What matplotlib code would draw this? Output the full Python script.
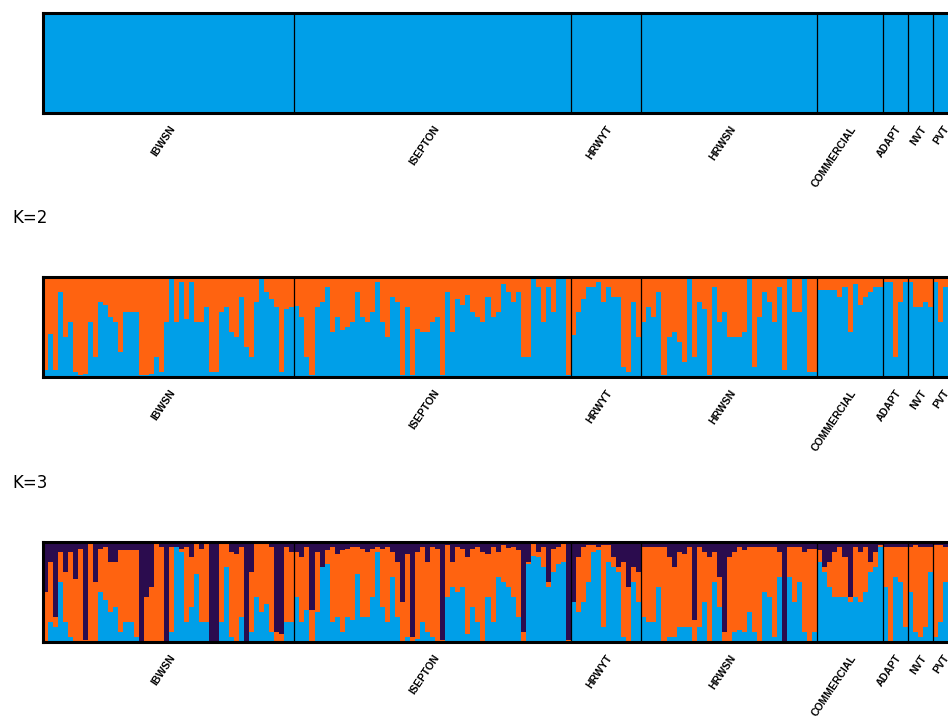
import numpy as np
import matplotlib.pyplot as plt

groups = ["IBWSN", "ISEPTON", "HRWYT", "HRWSN", "COMMERCIAL", "ADAPT", "NVT", "PVT"]

# K=2: blue share per individual (orange is the rest), one list per group
k2_blue = {
    "IBWSN": [0.07, 0.43, 0.07, 0.85, 0.40, 0.55, 0.05, 0.02, 0.03, 0.55,
              0.20, 0.75, 0.72, 0.60, 0.55, 0.25, 0.65, 0.65, 0.65, 0.02,
              0.02, 0.03, 0.20, 0.05, 0.55, 0.98, 0.55, 0.95, 0.58, 0.95,
              0.55, 0.55, 0.70, 0.05, 0.05, 0.65, 0.70, 0.45, 0.40, 0.80,
              0.30, 0.20, 0.75, 0.98, 0.85, 0.78, 0.70, 0.05, 0.68, 0.70],
    "ISEPTON": [0.71, 0.60, 0.20, 0.02, 0.70, 0.75, 0.90, 0.45, 0.60, 0.47,
                0.50, 0.55, 0.85, 0.60, 0.55, 0.65, 0.95, 0.55, 0.40, 0.80,
                0.75, 0.02, 0.70, 0.02, 0.48, 0.45, 0.45, 0.55, 0.60, 0.02,
                0.85, 0.45, 0.78, 0.72, 0.82, 0.65, 0.60, 0.55, 0.80, 0.60,
                0.65, 0.93, 0.85, 0.75, 0.85, 0.20, 0.20, 0.98, 0.90, 0.55,
                0.90, 0.65, 0.98, 0.98, 0.02],
    "HRWYT": [0.42, 0.65, 0.78, 0.90, 0.90, 0.95, 0.75, 0.90, 0.80, 0.80,
              0.10, 0.05, 0.75, 0.40],
    "HRWSN": [0.55, 0.70, 0.60, 0.85, 0.02, 0.40, 0.45, 0.35, 0.15, 0.98,
              0.20, 0.75, 0.68, 0.02, 0.90, 0.55, 0.65, 0.40, 0.40, 0.40,
              0.45, 0.98, 0.10, 0.60, 0.85, 0.75, 0.55, 0.90, 0.07, 0.98,
              0.65, 0.65, 0.98, 0.05, 0.05],
    "COMMERCIAL": [0.87, 0.87, 0.87, 0.87, 0.80, 0.90, 0.45, 0.93, 0.72, 0.80,
                   0.85, 0.90, 0.90],
    "ADAPT": [0.95, 0.95, 0.20, 0.75, 0.95],
    "NVT": [0.95, 0.70, 0.70, 0.75, 0.70],
    "PVT": [0.95, 0.55, 0.90, 0.80],
}

# K=3: blue share (bottom) and dark purple share (top); orange is the rest
k3_blue = {
    "IBWSN": [0.00, 0.20, 0.15, 0.60, 0.20, 0.05, 0.00, 0.00, 0.00, 0.00,
              0.00, 0.50, 0.42, 0.30, 0.35, 0.10, 0.20, 0.20, 0.05, 0.00,
              0.00, 0.00, 0.00, 0.00, 0.00, 0.10, 0.95, 0.90, 0.20, 0.35,
              0.68, 0.20, 0.20, 0.00, 0.00, 0.20, 0.75, 0.05, 0.00, 0.25,
              0.00, 0.10, 0.45, 0.30, 0.38, 0.10, 0.00, 0.00, 0.20, 0.20],
    "ISEPTON": [0.45, 0.20, 0.32, 0.00, 0.30, 0.75, 0.78, 0.20, 0.25, 0.10,
                0.25, 0.22, 0.68, 0.25, 0.25, 0.45, 0.90, 0.35, 0.20, 0.65,
                0.25, 0.00, 0.05, 0.00, 0.03, 0.20, 0.10, 0.05, 0.00, 0.00,
                0.45, 0.55, 0.50, 0.55, 0.08, 0.35, 0.20, 0.00, 0.45, 0.20,
                0.65, 0.60, 0.55, 0.45, 0.25, 0.00, 0.78, 0.86, 0.85, 0.75,
                0.55, 0.70, 0.78, 0.80, 0.00],
    "HRWYT": [0.40, 0.30, 0.40, 0.60, 0.90, 0.92, 0.15, 0.80, 0.75, 0.70,
              0.05, 0.00, 0.60, 0.40],
    "HRWSN": [0.25, 0.20, 0.20, 0.55, 0.00, 0.05, 0.05, 0.15, 0.15, 0.15,
              0.00, 0.15, 0.40, 0.00, 0.60, 0.35, 0.00, 0.00, 0.10, 0.12,
              0.10, 0.30, 0.10, 0.00, 0.50, 0.45, 0.05, 0.65, 0.00, 0.65,
              0.40, 0.60, 0.10, 0.00, 0.10],
    "COMMERCIAL": [0.80, 0.70, 0.55, 0.45, 0.45, 0.45, 0.40, 0.45, 0.40, 0.50,
                   0.70, 0.75, 0.95],
    "ADAPT": [0.55, 0.00, 0.65, 0.60, 0.15],
    "NVT": [0.50, 0.10, 0.05, 0.15, 0.70],
    "PVT": [0.05, 0.20, 0.60, 0.30],
}
k3_purple = {
    "IBWSN": [0.50, 0.20, 0.75, 0.10, 0.30, 0.10, 0.37, 0.07, 0.98, 0.02,
              0.40, 0.07, 0.05, 0.20, 0.20, 0.08, 0.08, 0.08, 0.08, 1.00,
              0.55, 0.45, 0.02, 0.05, 1.00, 0.05, 0.05, 0.07, 0.05, 0.15,
              0.02, 0.07, 0.02, 1.00, 1.00, 0.02, 0.02, 0.10, 0.12, 0.05,
              1.00, 0.30, 0.02, 0.02, 0.02, 0.05, 0.90, 0.92, 0.05, 0.10],
    "ISEPTON": [0.10, 0.15, 0.05, 0.68, 0.10, 0.25, 0.08, 0.05, 0.12, 0.08,
                0.07, 0.05, 0.05, 0.07, 0.10, 0.07, 0.05, 0.07, 0.05, 0.10,
                0.20, 0.60, 0.12, 0.95, 0.10, 0.05, 0.20, 0.05, 0.07, 0.98,
                0.03, 0.20, 0.05, 0.07, 0.15, 0.07, 0.05, 0.10, 0.12, 0.05,
                0.10, 0.03, 0.06, 0.05, 0.08, 0.90, 0.20, 0.02, 0.10, 0.05,
                0.40, 0.07, 0.05, 0.02, 0.98],
    "HRWYT": [0.60, 0.15, 0.05, 0.03, 0.03, 0.05, 0.03, 0.03, 0.15, 0.25,
              0.20, 0.45, 0.25, 0.30],
    "HRWSN": [0.05, 0.05, 0.05, 0.05, 0.05, 0.15, 0.25, 0.10, 0.12, 0.05,
              0.78, 0.05, 0.10, 0.15, 0.10, 0.35, 0.90, 0.15, 0.10, 0.05,
              0.08, 0.05, 0.05, 0.05, 0.05, 0.05, 0.05, 0.10, 1.00, 0.05,
              0.05, 0.05, 0.10, 0.07, 0.07],
    "COMMERCIAL": [0.08, 0.25, 0.20, 0.10, 0.05, 0.15, 0.55, 0.05, 0.10, 0.05,
                   0.20, 0.10, 0.03],
    "ADAPT": [0.05, 0.05, 0.05, 0.05, 0.05],
    "NVT": [0.05, 0.03, 0.05, 0.05, 0.05],
    "PVT": [0.03, 0.03, 0.05, 0.10],
}

blue = "#009FE8"
orange = "#FF6310"
purple = "#2B0C4E"

counts = [len(k2_blue[g]) for g in groups]
edges = np.concatenate([[0], np.cumsum(counts)])
n = edges[-1]
centers = (edges[:-1] + edges[1:]) / 2
x = np.arange(n)

def cat(d):
    return np.concatenate([d[g] for g in groups])

b2 = cat(k2_blue)
b3 = cat(k3_blue)
p3 = cat(k3_purple)

fig = plt.figure(figsize=(9.48, 7.22), dpi=100)
px_per_bar = (933 - 43) / edges[-2]
left = 43 / 948
width = n * px_per_bar / 948

panels = [(1 - 113 / 722, "K1"), (1 - 377 / 722, "K2"), (1 - 642 / 722, "K3")]
for bottom, k in panels:
    ax = fig.add_axes([left, bottom, width, 100 / 722])
    kw = dict(width=1, align="edge", linewidth=0, antialiased=False)
    if k == "K1":
        ax.bar(x, np.ones(n), color=blue, **kw)
    elif k == "K2":
        ax.bar(x, b2, color=blue, **kw)
        ax.bar(x, 1 - b2, bottom=b2, color=orange, **kw)
    else:
        ax.bar(x, b3, color=blue, **kw)
        ax.bar(x, 1 - b3 - p3, bottom=b3, color=orange, **kw)
        ax.bar(x, p3, bottom=1 - p3, color=purple, **kw)
    for e in edges[1:-1]:
        ax.axvline(e, color="black", linewidth=0.9)
    ax.set_xlim(0, n)
    ax.set_ylim(0, 1)
    ax.set_yticks([])
    ax.set_xticks(centers)
    ax.set_xticklabels(groups, rotation=56, ha="right", rotation_mode="anchor",
                       fontsize=7.5, fontweight="bold",
                       fontfamily="Liberation Sans")
    ax.tick_params(axis="x", length=0, pad=8)
    for s in ax.spines.values():
        s.set_linewidth(2.2)

fig.text(12 / 948, 1 - 218 / 722, "K=2", fontsize=12, va="center",
         fontfamily="DejaVu Sans")
fig.text(12 / 948, 1 - 483 / 722, "K=3", fontsize=12, va="center",
         fontfamily="DejaVu Sans")

fig.savefig("out.png", dpi=100)
